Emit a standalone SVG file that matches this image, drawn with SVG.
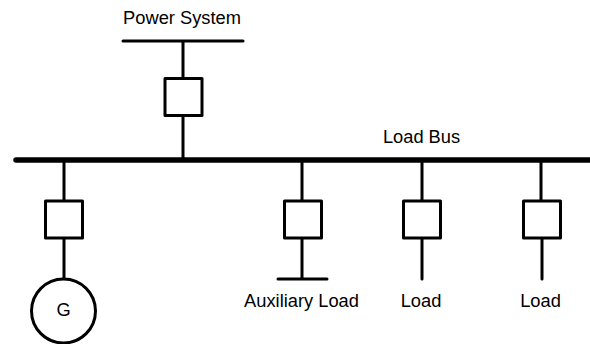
<svg xmlns="http://www.w3.org/2000/svg" width="590" height="344" viewBox="0 0 590 344">
<style>
.l{stroke:#000;stroke-width:3;fill:none;stroke-linecap:round}
.b{stroke:#000;stroke-width:3;fill:#fff;stroke-linejoin:round}
text{font-family:"Liberation Sans",Arial,sans-serif;font-size:18.3px;fill:#000;text-anchor:middle}
</style>
<rect width="590" height="344" fill="#fff"/>
<g id="connectors">
<path class="l" d="M123 41H243M183 41V78M183 116V160M64 160V201M64 238V279M302 160V201M302 238V279M278 279H327M422 160V201M422 238V279M541 160V201M542 238V279"/>
<path d="M16 160H592" stroke="#000" stroke-width="5.5" stroke-linecap="round" fill="none"/>
</g>
<g id="power-system"><text x="182" y="24">Power System</text></g>
<g id="load-bus"><text x="421.500" y="143">Load Bus</text></g>
<g id="breaker-1"><rect class="b" x="165" y="78.500" width="37" height="37"/></g>
<g id="breaker-2"><rect class="b" x="45.500" y="201" width="37" height="37"/></g>
<g id="breaker-3"><rect class="b" x="284.500" y="201" width="37" height="37"/></g>
<g id="breaker-4"><rect class="b" x="403.500" y="201" width="37" height="37"/></g>
<g id="breaker-5"><rect class="b" x="523.500" y="201" width="37" height="37"/></g>
<g id="generator"><circle class="b" cx="63.500" cy="311" r="32"/><text x="63.500" y="316">G</text></g>
<g id="aux-load"><text x="301.500" y="307">Auxiliary Load</text></g>
<g id="load-1"><text x="421" y="307">Load</text></g>
<g id="load-2"><text x="540.500" y="307">Load</text></g>
</svg>
